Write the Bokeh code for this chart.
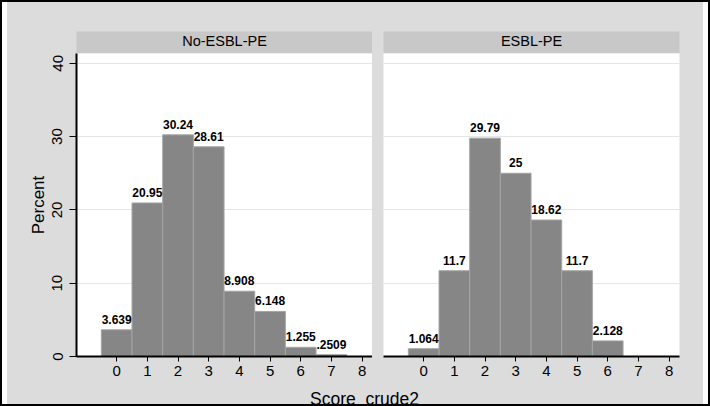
from bokeh.plotting import figure
from bokeh.layouts import row, column
from bokeh.models import (ColumnDataSource, Label, LabelSet, Grid, FixedTicker,
                          Range1d, Spacer)
from bokeh.core.properties import value
from bokeh.embed import file_html
from bokeh.resources import INLINE

# ---- data ----
no_esbl_scores = [0, 1, 2, 3, 4, 5, 6, 7]
no_esbl_pct = [3.639, 20.95, 30.24, 28.61, 8.908, 6.148, 1.255, 0.2509]
no_esbl_text = ["3.639", "20.95", "30.24", "28.61", "8.908", "6.148", "1.255", ".2509"]

esbl_scores = [0, 1, 2, 3, 4, 5, 6]
esbl_pct = [1.064, 11.7, 29.79, 25, 18.62, 11.7, 2.128]
esbl_text = ["1.064", "11.7", "29.79", "25", "18.62", "11.7", "2.128"]

panel_titles = ["No-ESBL-PE", "ESBL-PE"]
x_ticks = [0, 1, 2, 3, 4, 5, 6, 7, 8]
y_ticks = [0, 10, 20, 30, 40]
grid_ticks = [10, 20, 30, 40]
x_title = "Score_crude2"
y_title = "Percent"

# ---- style ----
FONT = "Liberation Sans"
BG = "#dcdcdc"
STRIP = "#c8c8c8"
BAR = "#868686"
BAR_LINE = "#a4a4a4"
GRID = "#e6e6e6"
X0, X1 = -1.31, 8.34
Y1 = 41.34


def make_strip(title, with_y):
    s = figure(frame_width=296, frame_height=22,
               x_range=Range1d(0, 1), y_range=Range1d(0, 1),
               x_axis_location=None, y_axis_location=None,
               output_backend="svg", toolbar_location=None,
               min_border_left=69 if with_y else 11,
               min_border_right=0 if with_y else 24,
               min_border_top=29, min_border_bottom=0,
               background_fill_color=STRIP, border_fill_color=BG,
               outline_line_color=None)
    s.grid.visible = False
    s.add_layout(Label(x=0.5, y=0.56, text=title, text_align="center",
                       text_baseline="middle", text_font=FONT,
                       text_font_size="14.5px", text_color="black"))
    return s


def make_panel(xs, ys, texts, with_y):
    p = figure(frame_width=296, frame_height=303,
               x_range=Range1d(X0, X1), y_range=Range1d(0, Y1),
               y_axis_location="left" if with_y else None,
               output_backend="svg", toolbar_location=None,
               min_border_left=69 if with_y else 11,
               min_border_right=0 if with_y else 24,
               min_border_top=0, min_border_bottom=30,
               background_fill_color="white", border_fill_color=BG,
               outline_line_color=None)
    src = ColumnDataSource(dict(x=xs, top=ys, label=texts))
    p.vbar(x="x", top="top", bottom=0, width=1, source=src,
           fill_color=BAR, line_color=BAR_LINE, line_width=1)
    p.add_layout(LabelSet(x="x", y="top", text="label", source=src,
                          text_align="center", text_baseline="alphabetic",
                          y_offset=6, text_font=value(FONT),
                          text_font_size="12px", text_font_style="bold",
                          text_color="black"))
    p.xgrid.visible = False
    if with_y:
        p.ygrid.ticker = FixedTicker(ticks=grid_ticks)
        p.ygrid.grid_line_color = GRID
    else:
        p.add_layout(Grid(dimension=1, ticker=FixedTicker(ticks=grid_ticks),
                          grid_line_color=GRID))
    xa = p.xaxis[0]
    xa.ticker = FixedTicker(ticks=x_ticks)
    xa.axis_line_width = 2
    xa.axis_line_color = "black"
    xa.major_tick_out = 5
    xa.major_tick_in = 0
    xa.minor_tick_line_color = None
    xa.major_label_standoff = 4
    xa.major_label_text_font = FONT
    xa.major_label_text_font_size = "15px"
    xa.major_label_text_color = "black"
    if with_y:
        ya = p.yaxis[0]
        ya.ticker = FixedTicker(ticks=y_ticks)
        ya.axis_line_width = 2
        ya.axis_line_color = "black"
        ya.major_tick_out = 7
        ya.major_tick_in = 0
        ya.minor_tick_line_color = None
        ya.major_label_orientation = "vertical"
        ya.major_label_standoff = 7
        ya.major_label_text_font = FONT
        ya.major_label_text_font_size = "15px"
        ya.major_label_text_color = "black"
        ya.axis_label = y_title
        ya.axis_label_standoff = 2
        ya.axis_label_text_font = FONT
        ya.axis_label_text_font_size = "17px"
        ya.axis_label_text_font_style = "normal"
        ya.axis_label_text_color = "black"
    return p


left = column(make_strip(panel_titles[0], True),
              make_panel(no_esbl_scores, no_esbl_pct, no_esbl_text, True), spacing=0)
right = column(make_strip(panel_titles[1], False),
               make_panel(esbl_scores, esbl_pct, esbl_text, False), spacing=0)

xlab = figure(width=696, height=18, x_range=Range1d(0, 696), y_range=Range1d(0, 18),
              output_backend="svg", toolbar_location=None,
              x_axis_location=None, y_axis_location=None,
              min_border=0, background_fill_color=BG, border_fill_color=BG,
              outline_line_color=None)
xlab.grid.visible = False
xlab.add_layout(Label(x=357, y=16, text=x_title, text_align="center",
                      text_baseline="top", text_font=FONT,
                      text_font_size="17.5px", text_color="black"))

content = column(row(left, right, spacing=0, styles={"background-color": BG}),
                 xlab, spacing=0, styles={"background-color": BG})
layout = row(Spacer(width=5, height=402, styles={"background-color": "white"}),
             content,
             Spacer(width=5, height=402, styles={"background-color": "white"}),
             spacing=0,
             styles={"border": "2px solid black", "background-color": BG})

open("out.html", "w").write(file_html(layout, INLINE))
